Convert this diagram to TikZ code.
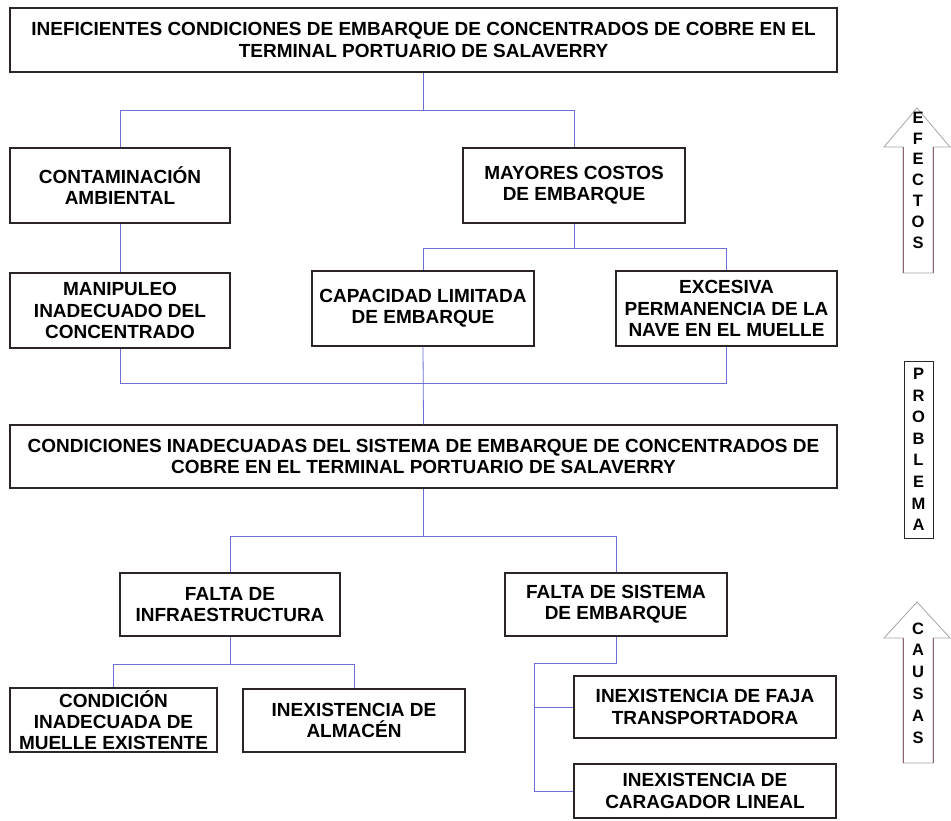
\documentclass[tikz,border=0pt]{standalone}
\usepackage{fontspec}
\setmainfont{Liberation Sans}
\usetikzlibrary{positioning}
\definecolor{boxline}{HTML}{2B2428}
\definecolor{linkblue}{HTML}{6E6ED6}
\definecolor{arrowgray}{HTML}{A8A4A8}
\definecolor{shaftline}{HTML}{8C6478}

\begin{document}
\begin{tikzpicture}[x=1pt, y=-1pt,
  box/.style={draw=boxline, line width=1.3pt, inner sep=0pt, align=center,
    font=\fontsize{19}{21.3}\selectfont\bfseries, minimum height=75pt},
  link/.style={draw=linkblue, line width=0.8pt},
  tag/.style={inner sep=0pt, align=center, font=\fontsize{16.5}{20.8}\selectfont\bfseries}]
\useasboundingbox (0,0) rectangle (951,820);
\fill[white] (0,0) rectangle (951,820);

% efectos
\node[box, minimum width=827pt, minimum height=64pt] (top) at (423.5,40)
  {INEFICIENTES CONDICIONES DE EMBARQUE DE CONCENTRADOS DE COBRE EN EL\\TERMINAL PORTUARIO DE SALAVERRY};
\node[box, minimum width=220pt] (cont) at (120,185.5) {CONTAMINACIÓN\\AMBIENTAL};
\node[box, minimum width=222pt] (costo) at (574,185.5) {MAYORES COSTOS\\DE EMBARQUE};
\node[box, minimum width=220pt] (manip) at (120,310.5) {MANIPULEO\\INADECUADO DEL\\CONCENTRADO};
\node[box, minimum width=222pt] (capac) at (423,308.5) {CAPACIDAD LIMITADA\\DE EMBARQUE};
\node[box, minimum width=221pt] (nave) at (726.5,308.5) {EXCESIVA\\PERMANENCIA DE LA\\NAVE EN EL MUELLE};

% problema
\node[box, minimum width=827pt, minimum height=63pt] (prob) at (423.5,456.5)
  {CONDICIONES INADECUADAS DEL SISTEMA DE EMBARQUE DE CONCENTRADOS DE\\COBRE EN EL TERMINAL PORTUARIO DE SALAVERRY};

% causas
\node[box, minimum width=220pt, minimum height=63pt] (infra) at (230,604.5) {FALTA DE\\INFRAESTRUCTURA};
\node[box, minimum width=222pt, minimum height=63pt] (sist) at (616,604.5) {FALTA DE SISTEMA\\DE EMBARQUE};
\node[box, minimum width=207pt, minimum height=64pt] (muelle) at (113.5,720) {CONDICIÓN\\INADECUADA DE\\MUELLE EXISTENTE};
\node[box, minimum width=222pt, minimum height=63pt] (almac) at (354,720.5) {INEXISTENCIA DE\\ALMACÉN};
\node[box, minimum width=262pt, minimum height=62pt] (faja) at (705,707) {INEXISTENCIA DE FAJA\\TRANSPORTADORA};
\node[box, minimum width=262pt, minimum height=54pt] (carag) at (705,791) {INEXISTENCIA DE\\CARAGADOR LINEAL};

\draw[link] (top.south) -- ++(0,38) coordinate (efk);
\draw[link] (cont.north) |- (efk) -| (costo.north);
\draw[link] (cont.south) -- (manip.north);
\draw[link] (costo.south) -- ++(0,25) coordinate (ck);
\draw[link] (capac.north) |- (ck) -| (nave.north);
\path (capac.south) ++(0,37) coordinate (pk);
\draw[link] (manip.south) |- (pk) -| (nave.south);
\draw[link] (capac.south) -- (prob.north);
\draw[link] (prob.south) -- ++(0,48) coordinate (ik);
\draw[link] (infra.north) |- (ik) -| (sist.north);
\draw[link] (infra.south) -- ++(0,28) coordinate (mk);
\draw[link] (muelle.north) |- (mk) -| (almac.north);
\draw[link] (sist.south) -- ++(0,27) -- ++(-82,0) coordinate (sk);
\draw[link] (sk) |- (carag.west);
\draw[link] (sk |- faja.west) -- (faja.west);

% flechas laterales
\draw[arrowgray, line width=0.8pt] (903,273) -- (903,147) -- (884,147) -- (917,108)
  -- (950,147) -- (933,147) -- (933,273) -- cycle;
\draw[shaftline, line width=0.8pt] (903,273) -- (903,147) (933,147) -- (933,273);
\node[tag] (efectos) at (918,180) {E\\F\\E\\C\\T\\O\\S};

\node[tag, draw=boxline, line width=1pt, minimum width=29pt, minimum height=177pt,
  font=\fontsize{16.5}{21.6}\selectfont\bfseries] (problema) at (918.5,449.5) {P\\R\\O\\B\\L\\E\\M\\A};

\draw[arrowgray, line width=0.8pt] (903,763) -- (903,638) -- (884,638) -- (917,602)
  -- (950,638) -- (933,638) -- (933,763) -- cycle;
\draw[shaftline, line width=0.8pt] (903,763) -- (903,638) (933,638) -- (933,763);
\node[tag, font=\fontsize{16.5}{21.8}\selectfont\bfseries] (causas) at (918,683) {C\\A\\U\\S\\A\\S};
\end{tikzpicture}
\end{document}
